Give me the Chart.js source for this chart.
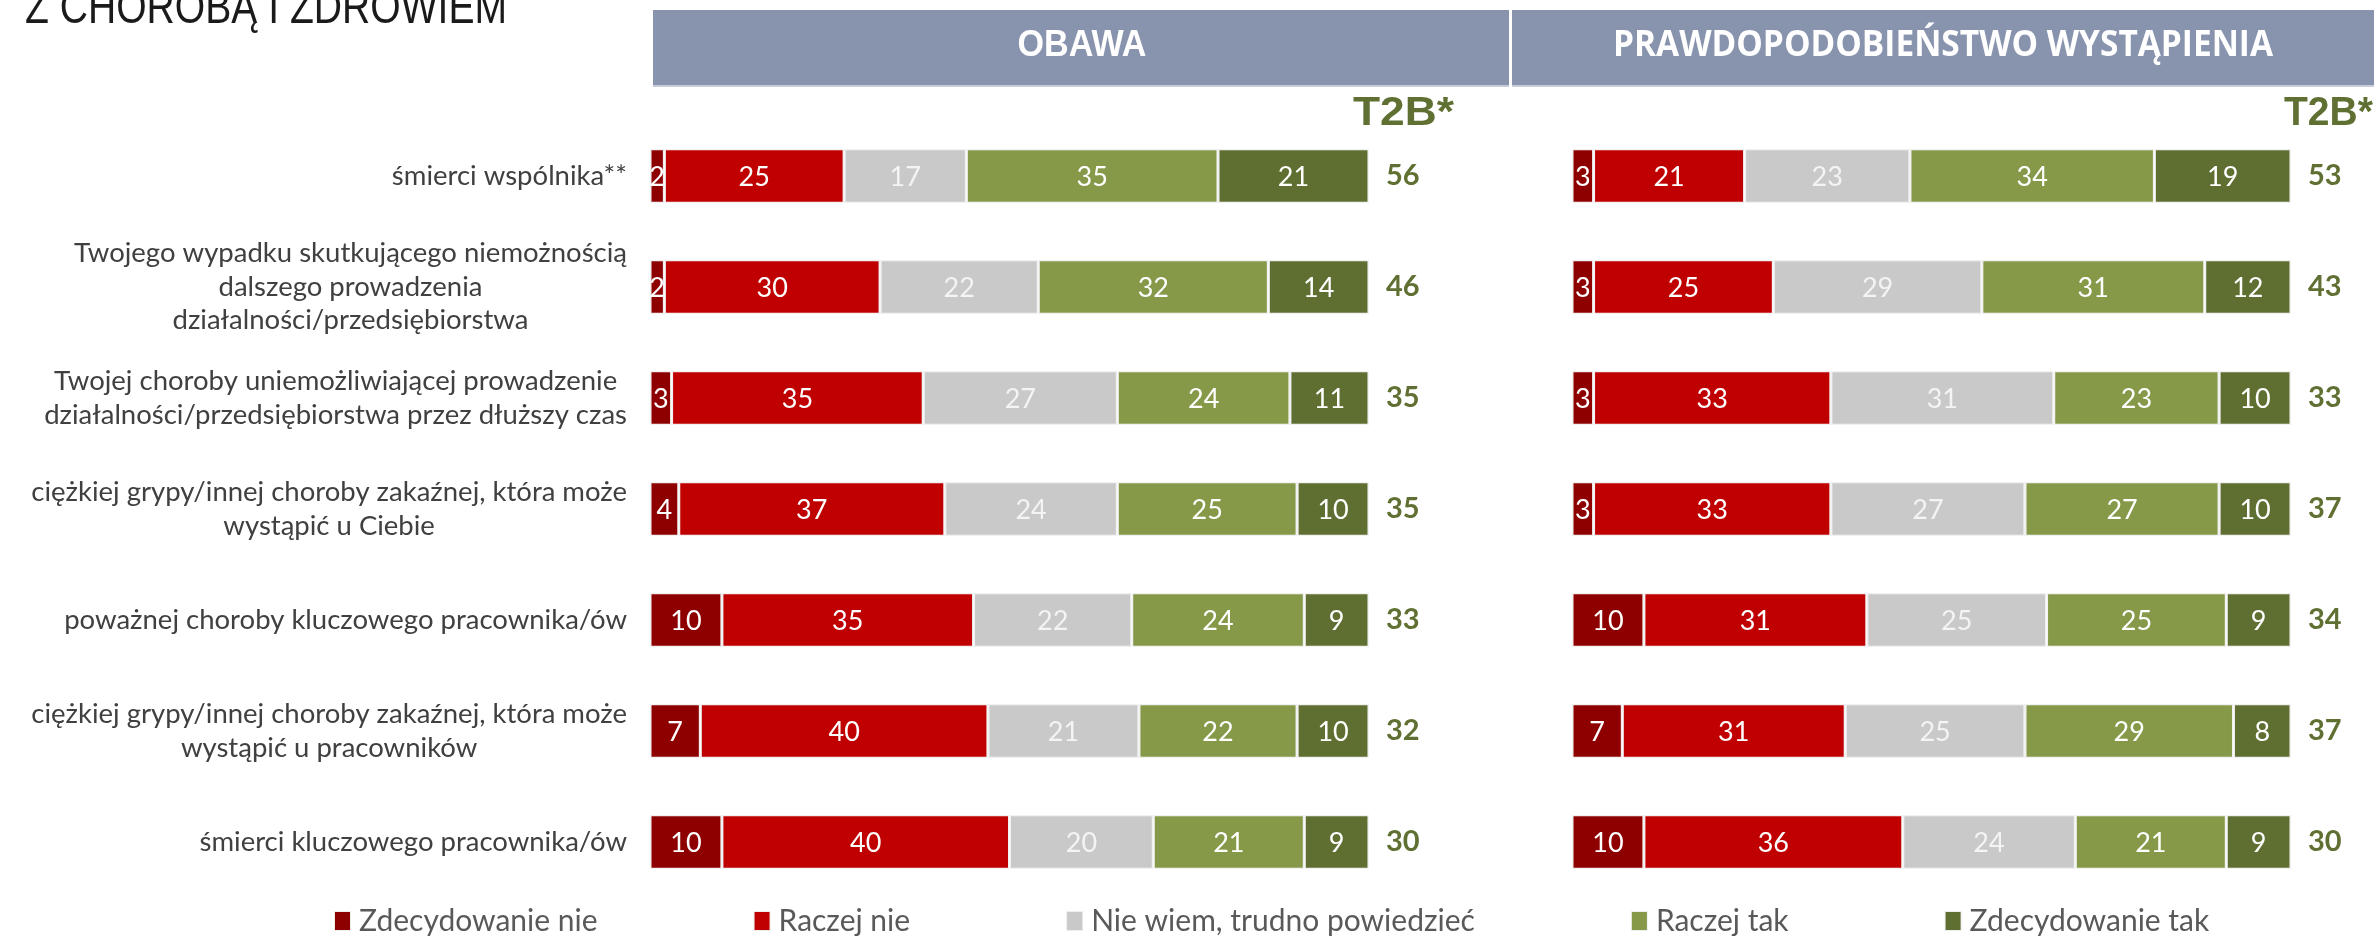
<!DOCTYPE html>
<html lang="pl">
<head>
<meta charset="utf-8">
<title>Z chorobą i zdrowiem</title>
<script src="https://cdn.jsdelivr.net/npm/chart.js@4.4.1/dist/chart.umd.min.js"></script>
<style>
  html, body { margin: 0; padding: 0; background: #ffffff; }
  #wrap { position: relative; width: 2374px; height: 937px; overflow: hidden; }
</style>
</head>
<body>
<div id="wrap">
  <canvas id="riskChart" width="2374" height="937"></canvas>
</div>
<script>
// Categories (rows, top to bottom)
const categories = [
  ['śmierci wspólnika**'],
  ['Twojego wypadku skutkującego niemożnością', 'dalszego prowadzenia', 'działalności/przedsiębiorstwa'],
  ['Twojej choroby uniemożliwiającej prowadzenie', 'działalności/przedsiębiorstwa przez dłuższy czas'],
  ['ciężkiej grypy/innej choroby zakaźnej, która może', 'wystąpić u Ciebie'],
  ['poważnej choroby kluczowego pracownika/ów'],
  ['ciężkiej grypy/innej choroby zakaźnej, która może', 'wystąpić u pracowników'],
  ['śmierci kluczowego pracownika/ów']
];

const answerLabels = ['Zdecydowanie nie', 'Raczej nie', 'Nie wiem, trudno powiedzieć', 'Raczej tak', 'Zdecydowanie tak'];
const answerColors = ['#8e0000', '#c00000', '#c9c9c9', '#859948', '#5f6e31'];

// OBAWA panel
const obawaZdecNie = [2, 2, 3, 4, 10, 7, 10];
const obawaRaczejNie = [25, 30, 35, 37, 35, 40, 40];
const obawaNieWiem = [17, 22, 27, 24, 22, 21, 20];
const obawaRaczejTak = [35, 32, 24, 25, 24, 22, 21];
const obawaZdecTak = [21, 14, 11, 10, 9, 10, 9];
const obawaT2B = [56, 46, 35, 35, 33, 32, 30];

// PRAWDOPODOBIEŃSTWO WYSTĄPIENIA panel
const prawZdecNie = [3, 3, 3, 3, 10, 7, 10];
const prawRaczejNie = [21, 25, 33, 33, 31, 31, 36];
const prawNieWiem = [23, 29, 31, 27, 25, 25, 24];
const prawRaczejTak = [34, 31, 23, 27, 25, 29, 21];
const prawZdecTak = [19, 12, 10, 10, 9, 8, 9];
const prawT2B = [53, 43, 33, 37, 34, 37, 30];

const panelTitles = ['OBAWA', 'PRAWDOPODOBIEŃSTWO WYSTĄPIENIA'];
const t2bTitle = 'T2B*';
const pageTitle = 'Z CHOROBĄ I ZDROWIEM';

// layout constants (pixels)
const LABEL_AXIS_W = 650;
const LEFT_PANEL_W = 922;   // bars + T2B gutter
const RIGHT_PANEL_W = 719;  // bars only
const leftMax = 100 * LEFT_PANEL_W / RIGHT_PANEL_W;

const labelFont = '27.5px Lato, "Open Sans", sans-serif';

// draw text squeezed/stretched to a given width (slide uses a narrow font)
function fitText(ctx, text, x, y, targetW, align) {
  const w = ctx.measureText(text).width;
  ctx.save();
  ctx.translate(x, y);
  ctx.scale(targetW / w, 1);
  ctx.textAlign = align;
  ctx.fillText(text, 0, 0);
  ctx.restore();
}

function makeSets(axisId, arrays) {
  return arrays.map((arr, k) => ({
    label: answerLabels[k],
    data: arr,
    xAxisID: axisId,
    backgroundColor: answerColors[k],
    borderColor: '#f1f1f1',
    borderWidth: 1.5,
    borderSkipped: false,
    stack: 'all'
  }));
}

const datasets = [
  ...makeSets('xL', [obawaZdecNie, obawaRaczejNie, obawaNieWiem, obawaRaczejTak, obawaZdecTak]),
  ...makeSets('xR', [prawZdecNie, prawRaczejNie, prawNieWiem, prawRaczejTak, prawZdecTak])
];

// Headers, labels, values and legend drawn on the chart canvas
const decorPlugin = {
  id: 'decor',
  beforeDraw(chart) {
    const ctx = chart.ctx;
    ctx.save();
    ctx.textBaseline = 'alphabetic';

    // page title (cut at the top as in the original slide)
    ctx.fillStyle = '#1a1a1a';
    ctx.font = '48px "Liberation Sans", Arial, sans-serif';
    fitText(ctx, pageTitle, 25, 23, 482, 'left');

    // panel header boxes
    const boxes = [[653, 1509], [1512, 2380]];
    boxes.forEach(([l, r]) => {
      ctx.fillStyle = '#c6ccda';
      ctx.fillRect(l, 10, r - l, 77);
      ctx.fillStyle = '#8893ad';
      ctx.fillRect(l, 10, r - l, 75);
    });
    ctx.fillStyle = '#ffffff';
    ctx.font = 'bold 36px "Liberation Sans", Arial, sans-serif';
    fitText(ctx, panelTitles[0], 1082, 56, 129, 'center');
    ctx.font = 'bold 35px "Open Sans", sans-serif';
    fitText(ctx, panelTitles[1], 1943, 56, 660, 'center');

    // T2B* column titles
    ctx.fillStyle = '#5f7032';
    ctx.font = 'bold 40px "Liberation Sans", Arial, sans-serif';
    fitText(ctx, t2bTitle, 1353, 125, 101, 'left');
    fitText(ctx, t2bTitle, 2284, 125, 89, 'left');
    ctx.restore();
  },
  afterDatasetsDraw(chart) {
    const ctx = chart.ctx;
    ctx.save();
    ctx.textAlign = 'center';
    ctx.textBaseline = 'middle';
    ctx.font = '27px Lato, "Open Sans", sans-serif';
    chart.data.datasets.forEach((ds, i) => {
      const meta = chart.getDatasetMeta(i);
      const k = answerLabels.indexOf(ds.label);
      ctx.fillStyle = k === 2 ? '#f4f4f4' : '#ffffff';
      meta.data.forEach((bar, j) => {
        const c = bar.getCenterPoint();
        ctx.fillText(String(ds.data[j]), c.x, c.y + 1);
      });
    });

    // T2B sums
    const yScale = chart.scales.y;
    ctx.fillStyle = '#5f7032';
    ctx.textAlign = 'left';
    ctx.font = 'bold 29px Lato, sans-serif';
    [[chart.scales.xL, obawaT2B], [chart.scales.xR, prawT2B]].forEach(([xs, vals]) => {
      vals.forEach((v, j) => {
        ctx.fillText(String(v), xs.getPixelForValue(100) + 17, yScale.getPixelForValue(j));
      });
    });

    // category labels: block right aligned, lines centred within the block
    ctx.fillStyle = '#404040';
    ctx.font = labelFont;
    const right = chart.chartArea.left - 23;
    const lineH = 33.5;
    categories.forEach((lines, j) => {
      const w = Math.max(...lines.map(s => ctx.measureText(s).width));
      const cx = right - w / 2;
      const cy = yScale.getPixelForValue(j);
      ctx.textAlign = 'center';
      lines.forEach((s, n) => {
        ctx.fillText(s, cx, cy + (n - (lines.length - 1) / 2) * lineH);
      });
    });

    // legend
    let lx = 335;
    const ly = 921;
    ctx.font = '30px Lato, sans-serif';
    ctx.textAlign = 'left';
    answerLabels.forEach((name, k) => {
      ctx.fillStyle = '#eeeeee';
      ctx.fillRect(lx - 1, ly - 10, 17, 20);
      ctx.fillStyle = answerColors[k];
      ctx.fillRect(lx, ly - 9, 15, 18);
      ctx.fillStyle = '#595959';
      ctx.fillText(name, lx + 24, ly);
      lx += 24 + ctx.measureText(name).width + 157;
    });
    ctx.restore();
  }
};

const riskChart = new Chart(document.getElementById('riskChart'), {
  type: 'bar',
  data: {
    labels: categories,
    datasets: datasets
  },
  options: {
    indexAxis: 'y',
    responsive: false,
    animation: false,
    devicePixelRatio: 1,
    layout: {
      padding: { top: 120.5, bottom: 39.5, left: 0, right: 83 }
    },
    datasets: {
      bar: { barPercentage: 0.49, categoryPercentage: 1 }
    },
    plugins: {
      legend: { display: false },
      tooltip: { enabled: false }
    },
    scales: {
      y: {
        stacked: true,
        grid: { display: false },
        border: { display: false },
        ticks: { display: false },
        afterFit: (scale) => { scale.width = LABEL_AXIS_W; }
      },
      xL: {
        type: 'linear',
        position: 'bottom',
        stack: 'panels',
        stackWeight: LEFT_PANEL_W,
        stacked: true,
        min: 0,
        max: leftMax,
        display: false
      },
      xR: {
        type: 'linear',
        position: 'bottom',
        stack: 'panels',
        stackWeight: RIGHT_PANEL_W,
        stacked: true,
        min: 0,
        max: 100,
        display: false
      }
    }
  },
  plugins: [decorPlugin]
});
</script>
</body>
</html>
